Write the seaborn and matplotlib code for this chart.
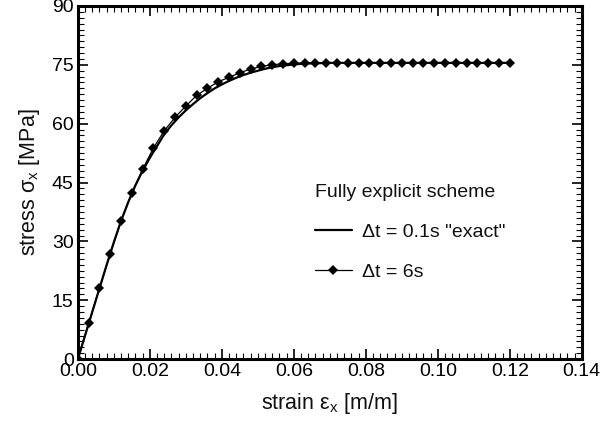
import numpy as np
import pandas as pd
import matplotlib
matplotlib.use("Agg")
import matplotlib.pyplot as plt
import seaborn as sns
from matplotlib.ticker import MultipleLocator

sns.set_theme(style="ticks")
plt.rcParams['font.family'] = ['Liberation Sans', 'DejaVu Sans']
plt.rcParams['mathtext.default'] = 'regular'

# exact solution (dt = 0.1s)
exact_strain = [0.000, 0.002, 0.004, 0.006, 0.008, 0.010, 0.012, 0.014, 0.016, 0.018,
                0.020, 0.022, 0.024, 0.026, 0.028, 0.030, 0.032, 0.034, 0.036, 0.038,
                0.040, 0.042, 0.044, 0.046, 0.048, 0.050, 0.052, 0.054, 0.056, 0.058,
                0.060, 0.062, 0.064, 0.066, 0.068, 0.070, 0.080, 0.090, 0.100, 0.110, 0.120]
exact_stress = [0.0, 6.0, 12.0, 18.0, 24.0, 29.8, 35.2, 40.0, 44.3, 48.0,
                51.3, 54.3, 57.3, 59.6, 61.6, 63.4, 65.0, 66.5, 67.8, 69.0,
                70.0, 70.9, 71.7, 72.4, 73.0, 73.5, 74.0, 74.4, 74.7, 74.9,
                75.1, 75.25, 75.35, 75.4, 75.45, 75.5, 75.5, 75.5, 75.5, 75.5, 75.5]

# explicit scheme, dt = 6s
dt6_strain = [0.000, 0.003, 0.006, 0.009, 0.012, 0.015, 0.018, 0.021, 0.024, 0.027,
              0.030, 0.033, 0.036, 0.039, 0.042, 0.045, 0.048, 0.051, 0.054, 0.057,
              0.060, 0.063, 0.066, 0.069, 0.072, 0.075, 0.078, 0.081, 0.084, 0.087,
              0.090, 0.093, 0.096, 0.099, 0.102, 0.105, 0.108, 0.111, 0.114, 0.117, 0.120]
dt6_stress = [0.0, 9.1, 18.1, 26.8, 35.3, 42.3, 48.4, 53.8, 58.2, 61.6,
              64.5, 67.2, 69.0, 70.7, 71.8, 73.0, 73.9, 74.6, 75.0, 75.3,
              75.4, 75.5, 75.5, 75.5, 75.5, 75.5, 75.5, 75.5, 75.5, 75.5,
              75.5, 75.5, 75.5, 75.5, 75.5, 75.5, 75.5, 75.5, 75.5, 75.5, 75.5]

df_exact = pd.DataFrame({'strain': exact_strain, 'stress': exact_stress})
df_dt6 = pd.DataFrame({'strain': dt6_strain, 'stress': dt6_stress})

fig = plt.figure(figsize=(6.13, 4.28), dpi=100)
ax = fig.add_axes([0.127, 0.161, 0.822, 0.825])

sns.lineplot(data=df_exact, x='strain', y='stress', ax=ax, color='black', lw=1.6,
             label='Δt = 0.1s "exact"', sort=False)
sns.lineplot(data=df_dt6, x='strain', y='stress', ax=ax, color='black', lw=0.9,
             marker='D', markersize=4.8, markeredgewidth=0, label='Δt = 6s', sort=False)

ax.set_xlim(0, 0.14)
ax.set_ylim(0, 90)
ax.xaxis.set_major_locator(MultipleLocator(0.02))
ax.xaxis.set_minor_locator(MultipleLocator(0.002))
ax.yaxis.set_major_locator(MultipleLocator(15))
ax.yaxis.set_minor_locator(MultipleLocator(1.5))
ax.xaxis.set_major_formatter(matplotlib.ticker.FormatStrFormatter('%.2f'))

ax.tick_params(which='both', direction='in', top=True, right=True, colors='black',
               labelsize=14, pad=3)
ax.tick_params(which='major', length=7, width=1.2)
ax.tick_params(which='minor', length=4, width=0.8)
for s in ax.spines.values():
    s.set_linewidth(2.2)
    s.set_color('black')

ax.set_xlabel('strain ε$_x$ [m/m]', fontsize=15.5, labelpad=8, color='#111111')
ax.set_ylabel('stress σ$_x$ [MPa]', fontsize=15.5, labelpad=7, color='#111111')

leg = ax.legend(title='Fully explicit scheme', loc='upper left', bbox_to_anchor=(0.435, 0.545),
                frameon=False, fontsize=14, title_fontsize=14, handlelength=1.95,
                labelspacing=1.15, handletextpad=0.5, alignment='left')
leg.get_title().set_color('#111111')
for t in leg.get_texts():
    t.set_color('#111111')

fig.savefig('out.png', dpi=100)
